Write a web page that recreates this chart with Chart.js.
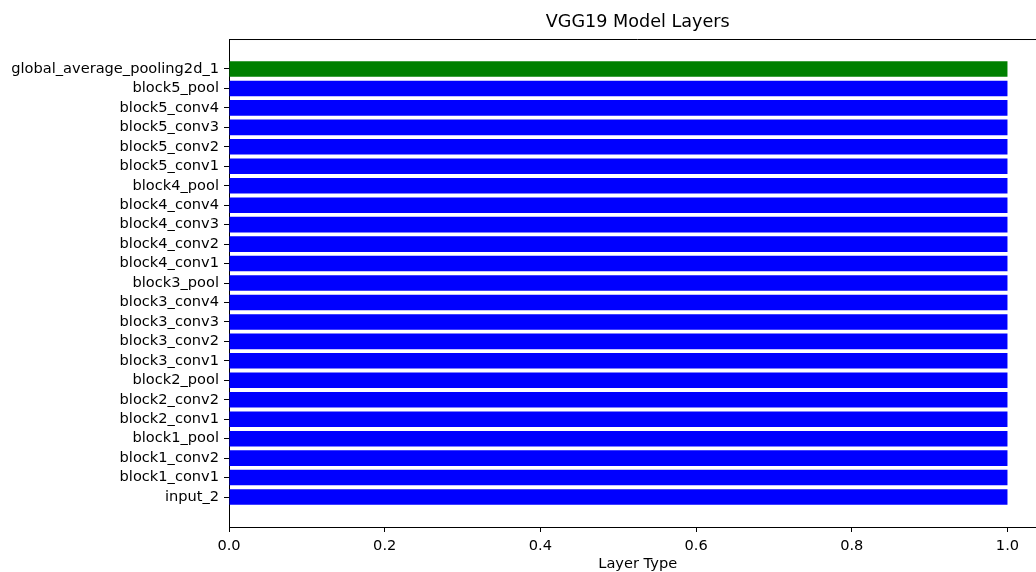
<!DOCTYPE html>
<html>
<head>
<meta charset="utf-8">
<script src="https://cdn.jsdelivr.net/npm/chart.js@4/dist/chart.umd.min.js"></script>
<style>
html,body{margin:0;padding:0;background:#fff;overflow:hidden;}
#wrap{width:1060px;height:572px;}
</style>
</head>
<body>
<div id="wrap"><canvas id="c" width="1060" height="572"></canvas></div>
<script>
// Layers, bottom (index 0) to top
const layers = ["input_2","block1_conv1","block1_conv2","block1_pool","block2_conv1","block2_conv2","block2_pool","block3_conv1","block3_conv2","block3_conv3","block3_conv4","block3_pool","block4_conv1","block4_conv2","block4_conv3","block4_conv4","block4_pool","block5_conv1","block5_conv2","block5_conv3","block5_conv4","block5_pool","global_average_pooling2d_1"];
const values = [1,1,1,1,1,1,1,1,1,1,1,1,1,1,1,1,1,1,1,1,1,1,1];
const barColors = ["blue","blue","blue","blue","blue","blue","blue","blue","blue","blue","blue","blue","blue","blue","blue","blue","blue","blue","blue","blue","blue","blue","green"];
const xTicks = [0,0.2,0.4,0.6,0.8,1.0];

const n = layers.length;
const ymin = -0.4 - 0.05*(n-1+0.8);
const ymax = (n-1) + 0.4 + 0.05*(n-1+0.8);

const frame = {
  id:'frame',
  afterDatasetsDraw(chart){
    const a = chart.chartArea, ctx = chart.ctx;
    ctx.save();
    ctx.strokeStyle = '#000';
    ctx.lineWidth = 1;
    ctx.beginPath();
    ctx.moveTo(a.left, a.top+0.5);
    ctx.lineTo(a.right, a.top+0.5);
    ctx.moveTo(a.right-0.5, a.top);
    ctx.lineTo(a.right-0.5, a.bottom);
    ctx.stroke();
    ctx.restore();
  }
};

const font = {family:"'DejaVu Sans', sans-serif", size:14.6};

new Chart(document.getElementById('c'), {
  type:'bar',
  data:{
    datasets:[{
      data: layers.map((l,i)=>({x: values[i], y: i})),
      backgroundColor: barColors,
      borderWidth: 0,
      categoryPercentage: 1.0,
      barPercentage: 0.8
    }]
  },
  options:{
    indexAxis:'y',
    responsive:false,
    animation:false,
    layout:{padding:{left:0,right:13.6,top:0,bottom:0}},
    plugins:{
      legend:{display:false},
      tooltip:{enabled:false},
      title:{
        display:true,
        text:'VGG19 Model Layers',
        fullSize:false,
        color:'#000',
        font:{family:"'DejaVu Sans', sans-serif", size:17.6, weight:'normal', lineHeight:1.2},
        padding:{top:11.5, bottom:6.4}
      }
    },
    scales:{
      x:{
        type:'linear',
        min:0,
        max:1.05,
        afterBuildTicks(s){ s.ticks = xTicks.map(v=>({value:v})); },
        afterFit(s){ s.height = 45; },
        ticks:{
          color:'#000',
          font:font,
          padding:5,
          includeBounds:false,
          callback:(v)=>Number(v).toFixed(1)
        },
        grid:{drawOnChartArea:false, drawTicks:true, tickLength:5, tickColor:'#000', tickWidth:1},
        border:{display:true, color:'#000', width:1},
        title:{display:true, text:'Layer Type', color:'#000', font:{family:"'DejaVu Sans', sans-serif", size:14.6, lineHeight:1.0}, padding:{top:2,bottom:0}}
      },
      y:{
        type:'linear',
        min:ymin,
        max:ymax,
        offset:false,
        afterBuildTicks(s){ s.ticks = layers.map((l,i)=>({value:i})); },
        afterFit(s){ s.width = 229; },
        ticks:{
          color:'#000',
          font:font,
          padding:5,
          autoSkip:false,
          callback:(v)=>layers[v] ?? ''
        },
        grid:{offset:false, drawOnChartArea:false, drawTicks:true, tickLength:5, tickColor:'#000', tickWidth:1},
        border:{display:true, color:'#000', width:1}
      }
    }
  },
  plugins:[frame]
});
</script>
</body>
</html>
